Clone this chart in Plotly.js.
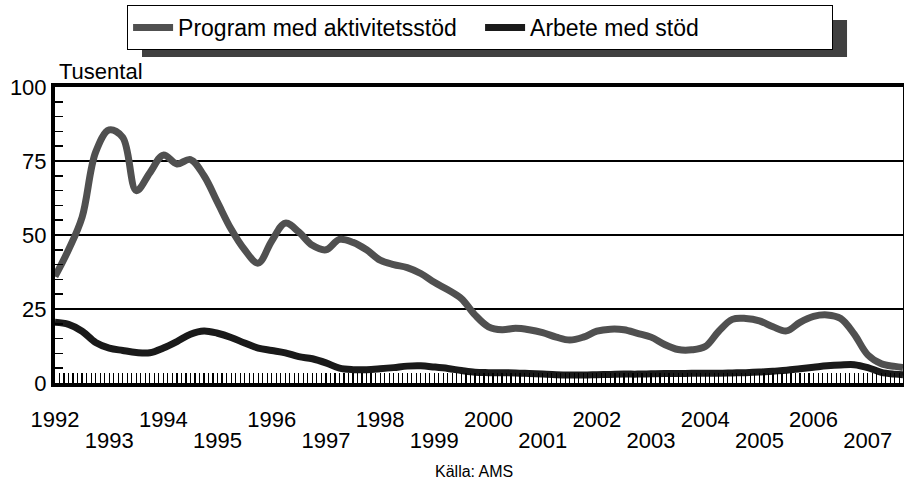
<!DOCTYPE html>
<html>
<head>
<meta charset="utf-8">
<script src="https://cdn.plot.ly/plotly-3.0.1.min.js"></script>
<style>
html,body{margin:0;padding:0;background:#fff;}
#chart{width:904px;height:483px;}
</style>
</head>
<body>
<div id="chart"></div>
<script>
// Time in decimal years (quarterly readings)
const time = [
  1992.00,1992.25,1992.50,1992.75,1993.00,1993.25,1993.50,1993.75,
  1994.00,1994.25,1994.50,1994.75,1995.00,1995.25,1995.50,1995.75,
  1996.00,1996.25,1996.50,1996.75,1997.00,1997.25,1997.50,1997.75,
  1998.00,1998.25,1998.50,1998.75,1999.00,1999.25,1999.50,1999.75,
  2000.00,2000.25,2000.50,2000.75,2001.00,2001.25,2001.50,2001.75,
  2002.00,2002.25,2002.50,2002.75,2003.00,2003.25,2003.50,2003.75,
  2004.00,2004.25,2004.50,2004.75,2005.00,2005.25,2005.50,2005.75,
  2006.00,2006.25,2006.50,2006.75,2007.00,2007.25,2007.50,2007.65
];
// Program med aktivitetsstöd (tusental)
const program = [
  36,45,56,78,85.5,83,65,71,
  77,74,75.5,70,61,52,45,40.5,
  48,54,51,46.5,45,48.5,47.5,45,
  41.5,40,39,37,34,31.5,28.5,23,
  19,18,18.5,18,17,15.5,14.5,15.5,
  17.5,18.2,18,16.8,15.5,13,11.3,11.2,
  12.3,17.5,21.5,21.8,21,19,17.6,20.5,
  22.5,23,21.8,16.5,9.5,6.5,5.6,5.2
];
// Arbete med stöd (tusental)
const arbete = [
  20.5,19.8,17.5,13.7,11.8,11,10.3,10.2,
  11.8,14,16.5,17.6,16.8,15.4,13.5,11.8,
  11,10.2,8.9,8.2,6.8,5,4.5,4.5,
  4.8,5.2,5.7,5.8,5.4,4.9,4.2,3.6,
  3.5,3.5,3.4,3.2,3.0,2.8,2.7,2.7,
  2.8,2.9,3.0,3.0,3.1,3.2,3.2,3.3,
  3.3,3.3,3.4,3.5,3.7,4.0,4.3,4.8,
  5.3,5.8,6.1,6.2,5.2,3.6,3.0,2.8
];
const evenYears = [1992,1994,1996,1998,2000,2002,2004,2006];
const evenLabels = ["1992","1994","1996","1998","2000","2002","2004","2006"];
const oddYears = [1993,1995,1997,1999,2001,2003,2005,2007];
const oddLabels = ["1993","1995","1997","1999","2001","2003","2005","2007"];
const seriesNames = ["Program med aktivitetsstöd","Arbete med stöd"];

const FONT = "Liberation Sans, Arial, sans-serif";
const X_RANGE = [1992, 2007.65];

const traces = [
  {x: time, y: arbete, name: seriesNames[1], type: "scatter", mode: "lines",
   line: {color: "#1a1a1a", width: 7, shape: "spline", smoothing: 1}, legendrank: 2},
  {x: time, y: program, name: seriesNames[0], type: "scatter", mode: "lines",
   line: {color: "#505050", width: 7, shape: "spline", smoothing: 1}, legendrank: 1},
  // empty helper trace so the second (odd-year label) axis is drawn
  {x: [], y: [], type: "scatter", mode: "lines", xaxis: "x2", yaxis: "y",
   showlegend: false, hoverinfo: "skip"}
];

const layout = {
  width: 904, height: 483,
  margin: {l: 55, r: 1, t: 87, b: 100},
  paper_bgcolor: "#fff", plot_bgcolor: "#fff",
  font: {family: FONT, size: 22, color: "#000"},
  showlegend: true,
  legend: {
    orientation: "h", x: 0.085, y: 1.277, xanchor: "left", yanchor: "top",
    bgcolor: "#fff", bordercolor: "#000", borderwidth: 1,
    font: {family: FONT, size: 23, color: "#000"},
    itemwidth: 40, entrywidth: 297, entrywidthmode: "pixels", traceorder: "normal"
  },
  xaxis: {
    range: X_RANGE, showgrid: false, zeroline: false,
    showline: true, linecolor: "#000", linewidth: 4, mirror: true,
    tickmode: "array", tickvals: evenYears, ticktext: evenLabels,
    ticks: "inside", ticklen: 10, tickwidth: 1.2, tickcolor: "#000",
    tickfont: {family: FONT, size: 22, color: "#000"},
    ticklabelstandoff: 14,
    minor: {dtick: 1/12, tick0: 1992, ticks: "inside", ticklen: 10, tickwidth: 1.2, tickcolor: "#000", showgrid: false},
    fixedrange: true
  },
  xaxis2: {
    overlaying: "x", anchor: "y", side: "bottom", range: X_RANGE,
    showgrid: false, zeroline: false, showline: false,
    tickmode: "array", tickvals: oddYears, ticktext: oddLabels,
    ticks: "", tickfont: {family: FONT, size: 22, color: "#000"},
    ticklabelstandoff: 42, fixedrange: true
  },
  yaxis: {
    range: [0, 100], tickmode: "linear", tick0: 0, dtick: 25,
    showgrid: true, gridcolor: "#000", gridwidth: 1.5, zeroline: false,
    showline: true, linecolor: "#000", linewidth: 4, mirror: true,
    ticks: "inside", ticklen: 8, tickwidth: 1.5, tickcolor: "#000",
    tickfont: {family: FONT, size: 22, color: "#000"},
    minor: {dtick: 5, ticks: "inside", ticklen: 8, tickwidth: 1.5, tickcolor: "#000", showgrid: false},
    fixedrange: true
  },
  shapes: [
    {type: "rect", xref: "paper", yref: "paper", x0: 0.1026, x1: 0.934, y0: 1.101, y1: 1.226,
     fillcolor: "#404040", line: {width: 0}, layer: "above"}
  ],
  annotations: [
    {text: "Tusental", xref: "paper", yref: "paper", x: 0.002, y: 1.054,
     xanchor: "left", yanchor: "middle", showarrow: false,
     font: {family: FONT, size: 22, color: "#000"}},
    {text: "Källa: AMS", xref: "paper", yref: "paper", x: 0.494, y: -0.30,
     xanchor: "center", yanchor: "middle", showarrow: false,
     font: {family: FONT, size: 16, color: "#000"}}
  ]
};

Plotly.newPlot("chart", traces, layout, {staticPlot: true, displayModeBar: false});
</script>
</body>
</html>
